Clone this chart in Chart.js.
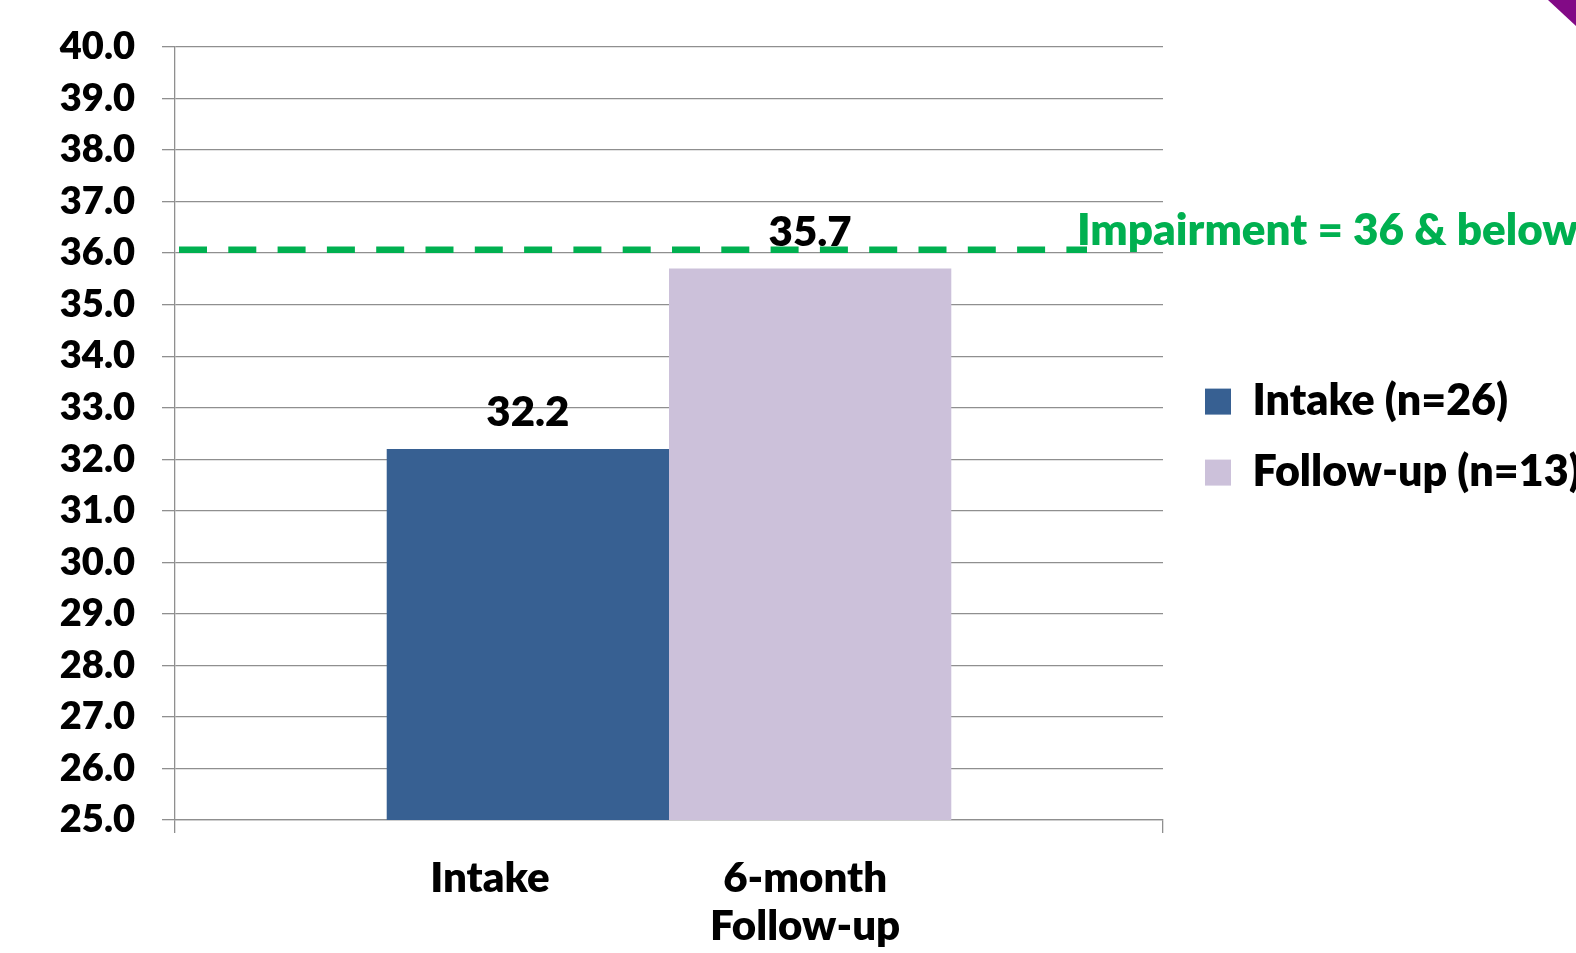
<!DOCTYPE html>
<html>
<head>
<meta charset="utf-8">
<script src="https://cdn.jsdelivr.net/npm/chart.js@4/dist/chart.umd.min.js"></script>
<style>
  html, body { margin: 0; padding: 0; background: #ffffff; }
  #wrap { width: 1576px; height: 953px; position: relative; }
</style>
</head>
<body>
<div id="wrap"><canvas id="c"></canvas></div>
<script>
// ---- data ----
const seriesLabels = ['Intake (n=26)', 'Follow-up (n=13)'];
const seriesValues = [32.2, 35.7];
const seriesColors = ['#376092', '#CCC1DA'];
const xLabels = [['Intake'], ['6-month', 'Follow-up']];
const yMin = 25.0;
const yMax = 40.0;
const yStep = 1.0;
const impairmentThreshold = 36;
const impairmentLabel = 'Impairment = 36 & below';

const FONT = 'Lato, "Open Sans", sans-serif';
const W8 = '800';
const GRID = '#8f8f8f';

const annotPlugin = {
  id: 'annot',
  afterDatasetsDraw(chart, args, opts) {
    const { ctx, chartArea, scales } = chart;
    const y = scales.y;
    ctx.save();
    // value labels above bars
    ctx.font = W8 + ' 42px ' + FONT;
    ctx.fillStyle = '#000000';
    ctx.textAlign = 'center';
    ctx.textBaseline = 'alphabetic';
    chart.data.datasets.forEach((ds, i) => {
      const bar = chart.getDatasetMeta(i).data[0];
      ctx.fillText(ds.data[0].toFixed(1), bar.x, bar.y - 23);
    });
    // category labels under bars
    ctx.font = W8 + ' 42px ' + FONT;
    xLabels.forEach((lines, i) => {
      const bar = chart.getDatasetMeta(i).data[0];
      lines.forEach((t, k) => {
        ctx.fillText(t, bar.x + opts.labelOffsets[i], chartArea.bottom + 72 + k * 48);
      });
    });
    // impairment dashed line
    const yT = y.getPixelForValue(impairmentThreshold);
    ctx.strokeStyle = '#00B050';
    ctx.lineWidth = 6.5;
    ctx.lineCap = 'butt';
    ctx.setLineDash([28, 21.3]);
    ctx.beginPath();
    ctx.moveTo(chartArea.left + 4, yT - 3.3);
    ctx.lineTo(chartArea.right - 76, yT - 3.3);
    ctx.stroke();
    ctx.setLineDash([]);
    // impairment label
    ctx.font = W8 + ' 44px ' + FONT;
    ctx.fillStyle = '#00B050';
    ctx.textAlign = 'left';
    ctx.fillText(impairmentLabel, chartArea.right - 86, yT - 8);
    // purple slide corner decoration
    const W = chart.width;
    ctx.fillStyle = '#820a86';
    ctx.beginPath();
    ctx.moveTo(W - 28, 0);
    ctx.lineTo(W, 0);
    ctx.lineTo(W, 26);
    ctx.closePath();
    ctx.fill();
    ctx.restore();
  }
};

const datasets = seriesLabels.map((lab, i) => ({
  label: lab,
  data: [seriesValues[i]],
  backgroundColor: seriesColors[i],
  borderWidth: 0,
  categoryPercentage: 2 / 3.5,
  barPercentage: 1.0
}));

new Chart(document.getElementById('c'), {
  type: 'bar',
  data: { labels: [''], datasets },
  plugins: [annotPlugin],
  options: {
    responsive: true,
    maintainAspectRatio: false,
    animation: false,
    layout: { padding: { top: 47, left: 0, right: 0, bottom: 0 } },
    plugins: {
      annot: { labelOffsets: [-38, -5] },
      tooltip: { enabled: false },
      legend: {
        position: 'right',
        align: 'center',
        fullSize: false,
        maxWidth: 399,
        title: { display: true, text: ' ', font: { size: 6 }, padding: 0 },
        labels: {
          boxWidth: 26,
          boxHeight: 26,
          padding: 28,
          color: '#000000',
          font: { family: FONT, size: 43, weight: W8 }
        }
      }
    },
    scales: {
      x: {
        type: 'category',
        offset: true,
        grid: {
          display: true,
          drawOnChartArea: false,
          drawTicks: true,
          tickLength: 13,
          offset: true,
          color: GRID,
          lineWidth: 1.3
        },
        border: { display: true, color: GRID, width: 1.3 },
        ticks: { display: false },
        afterFit(s) { s.height = 133; }
      },
      y: {
        min: yMin,
        max: yMax,
        grid: { color: GRID, lineWidth: 1.3, tickLength: 13, drawTicks: true },
        border: { display: true, color: GRID, width: 1.3 },
        ticks: {
          stepSize: yStep,
          padding: 27,
          color: '#000000',
          font: { family: FONT, size: 38, weight: W8 },
          callback: v => Number(v).toFixed(1)
        },
        afterFit(s) { s.width = 175; s.paddingTop = 0; s.paddingBottom = 0; }
      },
      yPad: {
        type: 'linear',
        position: 'right',
        display: true,
        grid: { display: false, drawTicks: false },
        border: { display: false },
        ticks: { display: false },
        afterFit(s) { s.width = 14; s.paddingTop = 0; s.paddingBottom = 0; }
      }
    }
  }
});
</script>
</body>
</html>
